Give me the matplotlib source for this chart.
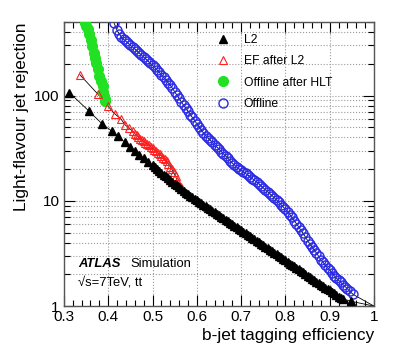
import matplotlib
matplotlib.use("Agg")
import matplotlib.pyplot as plt
from matplotlib.ticker import MultipleLocator, LogLocator, NullFormatter, FixedLocator, FuncFormatter

plt.rcParams['font.family'] = ['Liberation Sans', 'DejaVu Sans']

# L2 (black filled triangles)
l2_eff = [0.312, 0.357, 0.386, 0.408, 0.4226, 0.4377, 0.449,
          0.46, 0.47, 0.48, 0.49, 0.50, 0.505, 0.51, 0.515, 0.52, 0.525,
          0.53, 0.535, 0.54, 0.545, 0.55, 0.555, 0.56, 0.565, 0.57, 0.575,
          0.58, 0.585, 0.59, 0.595, 0.60, 0.605, 0.61, 0.615, 0.62, 0.625,
          0.63, 0.635, 0.64, 0.645, 0.65, 0.655, 0.66, 0.665, 0.67, 0.675,
          0.68, 0.685, 0.69, 0.695, 0.70, 0.705, 0.71, 0.715, 0.72, 0.725,
          0.73, 0.735, 0.74, 0.745, 0.75, 0.755, 0.76, 0.765, 0.77, 0.775,
          0.78, 0.785, 0.79, 0.795, 0.80, 0.805, 0.81, 0.815, 0.82, 0.825,
          0.83, 0.835, 0.84, 0.845, 0.85, 0.855, 0.86, 0.865, 0.87, 0.875,
          0.88, 0.885, 0.89, 0.895, 0.90, 0.905, 0.91, 0.915, 0.92, 0.925,
          0.93, 0.949]
l2_rej = [107, 71, 54, 46, 41, 36, 32.5,
          29.8, 27.5, 25.4, 23.5, 21.7, 20.8, 20.0, 19.2, 18.5, 17.8,
          17.1, 16.4, 15.8, 15.1, 14.6, 14.0, 13.5, 12.9, 12.4, 11.9,
          11.6, 11.2, 10.8, 10.5, 10.1, 9.8, 9.5, 9.2, 8.9, 8.6,
          8.3, 8.05, 7.8, 7.5, 7.3, 7.05, 6.8, 6.6, 6.4, 6.2,
          6.0, 5.8, 5.6, 5.4, 5.25, 5.08, 4.91, 4.75, 4.6, 4.45,
          4.3, 4.17, 4.03, 3.9, 3.78, 3.65, 3.53, 3.42, 3.31, 3.2,
          3.1, 3.0, 2.9, 2.8, 2.72, 2.63, 2.54, 2.46, 2.38, 2.3,
          2.23, 2.16, 2.09, 2.02, 1.95, 1.89, 1.83, 1.77, 1.71, 1.66,
          1.6, 1.55, 1.5, 1.45, 1.41, 1.36, 1.32, 1.27, 1.23, 1.2,
          1.17, 1.11]

# EF after L2 (red open triangles)
ef_eff = [0.336, 0.376, 0.3986, 0.415, 0.4287, 0.4377, 0.447, 0.456,
          0.46, 0.464, 0.468, 0.472, 0.476, 0.48, 0.484, 0.488, 0.492,
          0.496, 0.50, 0.504, 0.508, 0.512, 0.516, 0.52, 0.524, 0.528,
          0.532, 0.536, 0.54, 0.544, 0.548, 0.552, 0.556, 0.56, 0.564, 0.567]
ef_rej = [158, 104, 80, 67, 60, 53, 49, 45.7,
          43.5, 41.8, 40.3, 39, 37.8, 36.7, 35.6, 34.6, 33.6,
          32.6, 31.5, 30.5, 29.5, 28.6, 27.7, 26.8, 25.8, 24.8,
          23.7, 22.5, 21.2, 19.9, 18.6, 17.1, 15.5, 14.3, 13.4, 12.9]

# Offline after HLT (green filled circles)
hlt_eff = [0.3474, 0.3508, 0.3549, 0.3576, 0.3603, 0.3632, 0.367, 0.370,
           0.3729, 0.3774, 0.3801, 0.3828, 0.3874, 0.3892, 0.391, 0.3925, 0.393]
hlt_rej = [492, 454, 425, 381, 341, 299, 255, 230,
           202, 177, 155, 139, 123, 109, 100, 92, 88]

# Offline (blue open circles)
off_eff = [0.4136, 0.42, 0.425, 0.43, 0.435, 0.44, 0.445, 0.45, 0.455, 0.46,
           0.465, 0.47, 0.475, 0.48, 0.485, 0.49, 0.495, 0.50, 0.505, 0.51,
           0.515, 0.52, 0.525, 0.53, 0.535, 0.54, 0.545, 0.55, 0.555, 0.56,
           0.565, 0.57, 0.575, 0.58, 0.585, 0.59, 0.595, 0.60, 0.605, 0.61,
           0.615, 0.62, 0.625, 0.63, 0.635, 0.64, 0.645, 0.65, 0.655, 0.66,
           0.665, 0.67, 0.675, 0.68, 0.685, 0.69, 0.695, 0.70, 0.705, 0.71,
           0.715, 0.72, 0.725, 0.73, 0.735, 0.74, 0.745, 0.75, 0.755, 0.76,
           0.765, 0.77, 0.775, 0.78, 0.785, 0.79, 0.795, 0.80, 0.805, 0.81,
           0.815, 0.82, 0.825, 0.83, 0.835, 0.84, 0.845, 0.85, 0.855, 0.86,
           0.865, 0.87, 0.875, 0.88, 0.885, 0.89, 0.895, 0.90, 0.905, 0.91,
           0.915, 0.92, 0.925, 0.93, 0.935, 0.94, 0.945, 0.953]
off_rej = [485, 417, 385, 357, 342, 328, 314, 301, 289, 277,
           265, 254, 243, 232, 222, 212, 203, 194, 185, 176,
           167, 158, 149, 141, 133, 126, 117, 109, 101, 94,
           87, 81, 76, 71, 66, 62, 58, 54, 50.5, 47,
           44.3, 41.7, 39.7, 37.8, 36, 34.2, 32.5, 31, 29.4, 28,
           26.7, 25.4, 24.1, 22.9, 21.9, 20.9, 20.2, 19.5, 18.8, 18.2,
           17.6, 17, 16.3, 15.7, 15.1, 14.6, 13.9, 13.3, 12.7, 12.2,
           11.7, 11.2, 10.7, 10.2, 9.7, 9.2, 8.75, 8.3, 7.85, 7.4,
           6.95, 6.5, 6.05, 5.65, 5.25, 4.9, 4.55, 4.2, 3.9, 3.63,
           3.4, 3.2, 2.97, 2.75, 2.6, 2.45, 2.32, 2.19, 2.07, 1.95,
           1.85, 1.76, 1.68, 1.6, 1.53, 1.46, 1.39, 1.29]

# curves end at the (1, 1) corner
end_eff, end_rej = 1.0, 1.0

fig = plt.figure(figsize=(4.07, 3.61), dpi=100)
ax = fig.add_axes([0.157, 0.152, 0.762, 0.787])

line_kw = dict(color='black', linewidth=0.6, zorder=2)
ax.plot(l2_eff + [end_eff], l2_rej + [end_rej], **line_kw)
ax.plot(ef_eff, ef_rej, **line_kw)
ax.plot(off_eff + [end_eff], off_rej + [end_rej], **line_kw)

ax.plot(off_eff, off_rej, 'o', ls='none', mfc='none', mec='#2a2ae6',
        ms=6.5, mew=1.0, zorder=3, label='Offline')
ax.plot(hlt_eff, hlt_rej, 'o', ls='none', color='#22e022',
        ms=7, zorder=3, label='Offline after HLT')
ax.plot(ef_eff, ef_rej, '^', ls='none', mfc='none', mec='#ff2020',
        ms=5.5, mew=0.8, zorder=4, label='EF after L2')
ax.plot(l2_eff, l2_rej, '^', ls='none', color='black',
        ms=5.6, zorder=4, label='L2')

ax.set_yscale('log')
ax.set_xlim(0.3, 1.0)
ax.set_ylim(1, 500)

ax.xaxis.set_major_locator(MultipleLocator(0.1))
ax.xaxis.set_minor_locator(MultipleLocator(0.02))
ax.xaxis.set_major_formatter(FuncFormatter(
    lambda v, p: '1' if abs(v - 1) < 1e-6 else f'{v:.1f}'))
ax.yaxis.set_major_locator(FixedLocator([1, 10, 100]))
ax.yaxis.set_major_formatter(FuncFormatter(lambda v, p: f'{v:g}'))
ax.yaxis.set_minor_locator(LogLocator(base=10, subs=range(2, 10)))
ax.yaxis.set_minor_formatter(NullFormatter())

ax.tick_params(which='both', direction='in', top=True, right=True,
               labelsize=11, colors='black', pad=3)
ax.tick_params(which='major', length=8, width=0.8)
ax.tick_params(which='minor', length=4, width=0.8)

ax.grid(which='major', axis='x', color='#9a9a9a', linestyle=':', linewidth=0.8)
ax.grid(which='both', axis='y', color='#9a9a9a', linestyle=':', linewidth=0.8)
ax.set_axisbelow(True)

for s in ax.spines.values():
    s.set_color('#555555')
    s.set_linewidth(1.0)

ax.set_xlabel('b-jet tagging efficiency', fontsize=12.4, loc='right', labelpad=3)
ax.set_ylabel('Light-flavour jet rejection', fontsize=12.4, loc='top')
ax.yaxis.set_label_coords(-0.112, 1.0)

handles, labels = ax.get_legend_handles_labels()
order = [3, 2, 1, 0]
ax.legend([handles[i] for i in order], [labels[i] for i in order],
          loc='upper left', bbox_to_anchor=(0.492, 0.958), frameon=False,
          fontsize=8.7, handlelength=1.0, handletextpad=1.25,
          labelspacing=0.77, borderpad=0, borderaxespad=0)

ax.text(0.045, 0.148, 'ATLAS', transform=ax.transAxes, fontsize=9.4,
        fontweight='bold', fontstyle='italic', va='center')
ax.text(0.215, 0.148, 'Simulation', transform=ax.transAxes, fontsize=9.4,
        va='center')
ax.text(0.045, 0.083, '√s=7TeV, tt', transform=ax.transAxes, fontsize=9.4,
        va='center')

fig.savefig('out.png', dpi=100)
